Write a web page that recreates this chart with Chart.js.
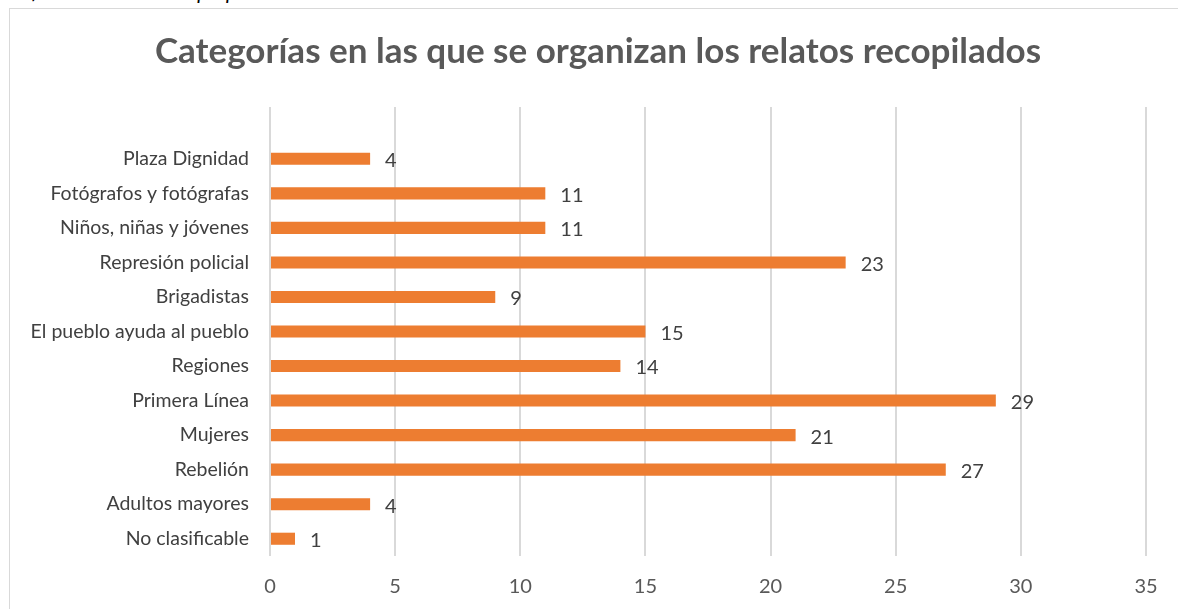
<!DOCTYPE html>
<html>
<head>
<meta charset="utf-8">
<script src="https://cdn.jsdelivr.net/npm/chart.js@4.4.0/dist/chart.umd.min.js"></script>
<style>
  body { margin: 0; background: #fff; overflow: hidden; }
  #wrap { position: relative; width: 1178px; height: 609px; overflow: hidden; }
  #caption { position: absolute; left: 0; top: -19px; font: italic 21px Lato, sans-serif; line-height: 20px; color: #000; white-space: nowrap; }
  #frame { position: absolute; left: 9px; top: 8px; width: 1200px; height: 640px; border: 1.5px solid #d9d9d9; }
  #c { position: absolute; left: 0; top: 0; }
</style>
</head>
<body>
<div id="wrap">
  <div id="caption">Gráfico 1. Elaboración propia</div>
  <div id="frame"></div>
  <canvas id="c" width="1178" height="609"></canvas>
</div>
<script>
// categories, top to bottom (first slot is empty in the original chart)
const categories = ['', 'Plaza Dignidad', 'Fotógrafos y fotógrafas', 'Niños, niñas y jóvenes',
  'Represión policial', 'Brigadistas', 'El pueblo ayuda al pueblo', 'Regiones',
  'Primera Línea', 'Mujeres', 'Rebelión', 'Adultos mayores', 'No clasificable'];
const relatos = [null, 4, 11, 11, 23, 9, 15, 14, 29, 21, 27, 4, 1];
const xTicks = [0, 5, 10, 15, 20, 25, 30, 35];

const colors = {
    bar: '#ED7D31',
    grid: '#d9d9d9',
    title: '#595959',
    axisText: '#595959',
    labelText: '#404040'
};
const fontFamily = 'Lato, "Open Sans", sans-serif';

// values printed to the right of each bar
const valueLabels = {
    id: 'valueLabels',
    afterDatasetsDraw(chart) {
        const ctx = chart.ctx;
        const meta = chart.getDatasetMeta(0);
        ctx.save();
        ctx.font = '20px ' + fontFamily;
        ctx.fillStyle = colors.labelText;
        ctx.textAlign = 'left';
        ctx.textBaseline = 'middle';
        meta.data.forEach((bar, i) => {
            const v = relatos[i];
            if (v == null) return;
            ctx.fillText(String(v), bar.x + 15, bar.y + 2);
        });
        ctx.restore();
    }
};

new Chart(document.getElementById('c'), {
    type: 'bar',
    data: {
        labels: categories,
        datasets: [{
            label: 'Relatos',
            data: relatos,
            backgroundColor: colors.bar,
            borderWidth: 0,
            barPercentage: 0.35,
            categoryPercentage: 1
        }]
    },
    options: {
        indexAxis: 'y',
        responsive: false,
        animation: false,
        layout: { padding: { left: 18, right: 0, top: 0, bottom: 0 } },
        scales: {
            x: {
                min: 0,
                max: 35,
                afterFit: (scale) => { scale.height = 53; },
                afterBuildTicks: (scale) => { scale.ticks = xTicks.map(v => ({ value: v })); },
                ticks: {
                    color: colors.axisText,
                    font: { size: 20, family: fontFamily },
                    padding: 19
                },
                grid: { color: colors.grid, lineWidth: 2, drawTicks: false },
                border: { display: false }
            },
            y: {
                afterFit: (scale) => { scale.width = 252; },
                ticks: {
                    color: colors.labelText,
                    font: { size: 19.5, family: fontFamily },
                    padding: 21,
                    autoSkip: false
                },
                grid: { display: false, drawTicks: false },
                border: { display: false }
            },
            // empty right-hand axis, only keeps the right margin of the plot
            yRight: {
                type: 'category',
                position: 'right',
                afterFit: (scale) => { scale.width = 32; },
                ticks: { display: false },
                grid: { display: false, drawTicks: false },
                border: { display: false }
            }
        },
        plugins: {
            legend: { display: false },
            tooltip: { enabled: false },
            title: {
                display: true,
                text: 'Categorías en las que se organizan los relatos recopilados',
                color: colors.title,
                font: { size: 35, weight: 'bold', family: fontFamily },
                padding: { top: 31, bottom: 34 }
            }
        }
    },
    plugins: [valueLabels]
});
</script>
</body>
</html>
